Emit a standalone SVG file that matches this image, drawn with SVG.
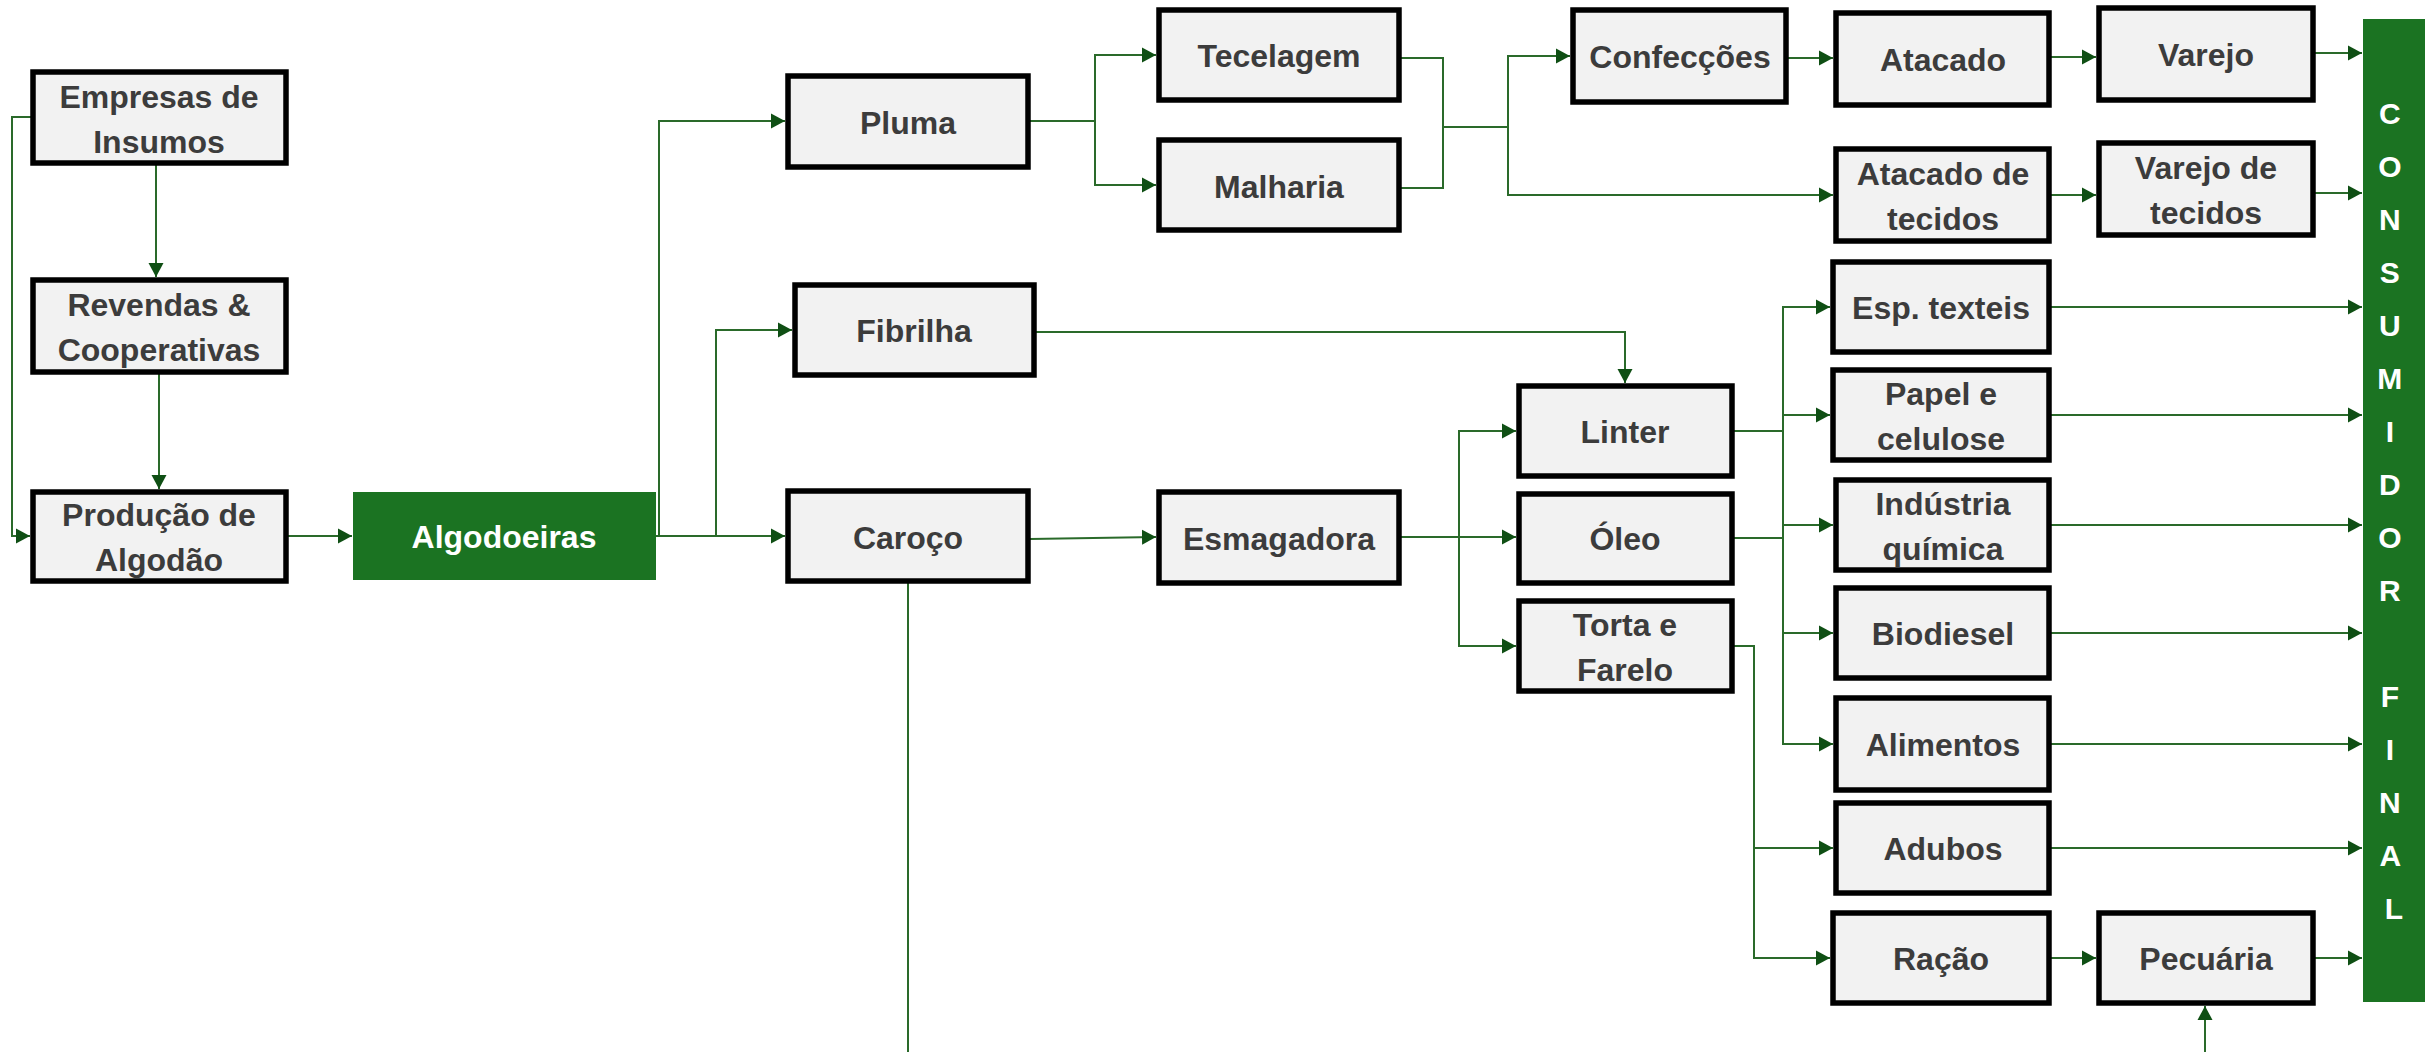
<svg xmlns="http://www.w3.org/2000/svg" width="2425" height="1052" viewBox="0 0 2425 1052">
  <style>
    .box { fill: #f2f2f2; stroke: #000; stroke-width: 5.5; }
    .green { fill: #1b7322; }
    .lbl { font-family: "Liberation Sans", Arial, sans-serif; font-weight: bold; font-size: 32px; fill: #3c3c3c; text-anchor: middle; }
    .wlbl { font-family: "Liberation Sans", Arial, sans-serif; font-weight: bold; font-size: 32px; fill: #ffffff; text-anchor: middle; }
    .vlbl { font-family: "Liberation Sans", Arial, sans-serif; font-weight: bold; font-size: 30px; fill: #ffffff; text-anchor: middle; }
    .conn { fill: none; stroke: #2a6a2a; stroke-width: 2; }
    .arr { marker-end: url(#head); }
  </style>
  <defs>
    <marker id="head" markerUnits="userSpaceOnUse" markerWidth="16" markerHeight="18" refX="14" refY="8.5" orient="auto">
      <path d="M0,1 L14,8.5 L0,16 Z" fill="#0f4f14"/>
    </marker>
  </defs>

  <rect width="2425" height="1052" fill="#ffffff"/>

  <!-- connectors -->
  <g id="connectors">
    <path class="conn arr" d="M156,165 V277"/>
    <path class="conn arr" d="M159,374 V489"/>
    <path class="conn arr" d="M31,117 H12 V536 H30"/>
    <path class="conn arr" d="M288,536 H352"/>
    <path class="conn arr" d="M656,536 H785"/>
    <path class="conn arr" d="M659,536 V121 H785"/>
    <path class="conn arr" d="M716,536 V330 H792"/>
    <path class="conn arr" d="M1030,121 H1095 V55 H1156"/>
    <path class="conn arr" d="M1095,121 V185 H1156"/>
    <path class="conn" d="M1401,58 H1443 V188 H1401"/>
    <path class="conn arr" d="M1443,127 H1508 V56 H1570"/>
    <path class="conn arr" d="M1508,127 V195 H1833"/>
    <path class="conn arr" d="M1788,58 H1833"/>
    <path class="conn arr" d="M2051,57 H2096"/>
    <path class="conn arr" d="M2315,53 H2362"/>
    <path class="conn arr" d="M2051,195 H2096"/>
    <path class="conn arr" d="M2315,193 H2362"/>
    <path class="conn arr" d="M1036,332 H1625 V383"/>
    <path class="conn arr" d="M1030,539 L1156,537"/>
    <path class="conn arr" d="M908,583 V1090 H2205 V1006"/>
    <path class="conn arr" d="M1401,537 H1516"/>
    <path class="conn arr" d="M1459,537 V431 H1516"/>
    <path class="conn arr" d="M1459,537 V646 H1516"/>
    <path class="conn arr" d="M1734,431 H1783 V307 H1830"/>
    <path class="conn arr" d="M1783,431 V415 H1830"/>
    <path class="conn" d="M1734,538 H1783"/>
    <path class="conn arr" d="M1783,431 V525 H1833"/>
    <path class="conn arr" d="M1783,525 V633 H1833"/>
    <path class="conn arr" d="M1783,633 V744 H1833"/>
    <path class="conn arr" d="M1734,646 H1754 V848 H1833"/>
    <path class="conn arr" d="M1754,848 V958 H1830"/>
    <path class="conn arr" d="M2051,307 H2362"/>
    <path class="conn arr" d="M2051,415 H2362"/>
    <path class="conn arr" d="M2051,525 H2362"/>
    <path class="conn arr" d="M2051,633 H2362"/>
    <path class="conn arr" d="M2051,744 H2362"/>
    <path class="conn arr" d="M2051,848 H2362"/>
    <path class="conn arr" d="M2051,958 H2096"/>
    <path class="conn arr" d="M2315,958 H2362"/>
  </g>

  <!-- supply side -->
  <g id="empresas">
    <rect class="box" x="33" y="72" width="253" height="91"/>
    <text class="lbl" x="159" y="108">Empresas de</text>
    <text class="lbl" x="159" y="153">Insumos</text>
  </g>
  <g id="revendas">
    <rect class="box" x="33" y="280" width="253" height="92"/>
    <text class="lbl" x="159" y="316">Revendas &amp;</text>
    <text class="lbl" x="159" y="361">Cooperativas</text>
  </g>
  <g id="producao">
    <rect class="box" x="33" y="492" width="253" height="89"/>
    <text class="lbl" x="159" y="526">Produção de</text>
    <text class="lbl" x="159" y="571">Algodão</text>
  </g>
  <g id="algodoeiras">
    <rect class="green" x="353" y="492" width="303" height="88"/>
    <text class="wlbl" x="504" y="548">Algodoeiras</text>
  </g>

  <!-- fibre chain -->
  <g id="pluma">
    <rect class="box" x="788" y="76" width="240" height="91"/>
    <text class="lbl" x="908" y="134">Pluma</text>
  </g>
  <g id="tecelagem">
    <rect class="box" x="1159" y="10" width="240" height="90"/>
    <text class="lbl" x="1279" y="67">Tecelagem</text>
  </g>
  <g id="malharia">
    <rect class="box" x="1159" y="140" width="240" height="90"/>
    <text class="lbl" x="1279" y="198">Malharia</text>
  </g>
  <g id="confeccoes">
    <rect class="box" x="1573" y="10" width="213" height="92"/>
    <text class="lbl" x="1680" y="68">Confecções</text>
  </g>
  <g id="atacado">
    <rect class="box" x="1836" y="13" width="213" height="92"/>
    <text class="lbl" x="1943" y="71">Atacado</text>
  </g>
  <g id="varejo">
    <rect class="box" x="2099" y="8" width="214" height="92"/>
    <text class="lbl" x="2206" y="66">Varejo</text>
  </g>
  <g id="atacado-tecidos">
    <rect class="box" x="1836" y="149" width="213" height="92"/>
    <text class="lbl" x="1943" y="185">Atacado de</text>
    <text class="lbl" x="1943" y="230">tecidos</text>
  </g>
  <g id="varejo-tecidos">
    <rect class="box" x="2099" y="143" width="214" height="92"/>
    <text class="lbl" x="2206" y="179">Varejo de</text>
    <text class="lbl" x="2206" y="224">tecidos</text>
  </g>

  <!-- seed chain -->
  <g id="fibrilha">
    <rect class="box" x="795" y="285" width="239" height="90"/>
    <text class="lbl" x="914" y="342">Fibrilha</text>
  </g>
  <g id="caroco">
    <rect class="box" x="788" y="491" width="240" height="90"/>
    <text class="lbl" x="908" y="549">Caroço</text>
  </g>
  <g id="esmagadora">
    <rect class="box" x="1159" y="492" width="240" height="91"/>
    <text class="lbl" x="1279" y="550">Esmagadora</text>
  </g>
  <g id="linter">
    <rect class="box" x="1519" y="386" width="213" height="90"/>
    <text class="lbl" x="1625" y="443">Linter</text>
  </g>
  <g id="oleo">
    <rect class="box" x="1519" y="494" width="213" height="89"/>
    <text class="lbl" x="1625" y="550">Óleo</text>
  </g>
  <g id="torta">
    <rect class="box" x="1519" y="601" width="213" height="90"/>
    <text class="lbl" x="1625" y="636">Torta e</text>
    <text class="lbl" x="1625" y="681">Farelo</text>
  </g>
  <g id="esp-texteis">
    <rect class="box" x="1833" y="262" width="216" height="90"/>
    <text class="lbl" x="1941" y="319">Esp. texteis</text>
  </g>
  <g id="papel">
    <rect class="box" x="1833" y="370" width="216" height="90"/>
    <text class="lbl" x="1941" y="405">Papel e</text>
    <text class="lbl" x="1941" y="450">celulose</text>
  </g>
  <g id="industria">
    <rect class="box" x="1836" y="480" width="213" height="90"/>
    <text class="lbl" x="1943" y="515">Indústria</text>
    <text class="lbl" x="1943" y="560">química</text>
  </g>
  <g id="biodiesel">
    <rect class="box" x="1836" y="588" width="213" height="90"/>
    <text class="lbl" x="1943" y="645">Biodiesel</text>
  </g>
  <g id="alimentos">
    <rect class="box" x="1836" y="698" width="213" height="92"/>
    <text class="lbl" x="1943" y="756">Alimentos</text>
  </g>
  <g id="adubos">
    <rect class="box" x="1836" y="803" width="213" height="90"/>
    <text class="lbl" x="1943" y="860">Adubos</text>
  </g>
  <g id="racao">
    <rect class="box" x="1833" y="913" width="216" height="90"/>
    <text class="lbl" x="1941" y="970">Ração</text>
  </g>
  <g id="pecuaria">
    <rect class="box" x="2099" y="913" width="214" height="90"/>
    <text class="lbl" x="2206" y="970">Pecuária</text>
  </g>

  <!-- final consumer bar -->
  <g id="consumidor-final">
    <rect class="green" x="2363" y="19" width="62" height="983"/>
    <text class="vlbl">
      <tspan x="2394" y="124">C</tspan>
      <tspan x="2394" y="177">O</tspan>
      <tspan x="2394" y="230">N</tspan>
      <tspan x="2394" y="283">S</tspan>
      <tspan x="2394" y="336">U</tspan>
      <tspan x="2394" y="389">M</tspan>
      <tspan x="2394" y="442">I</tspan>
      <tspan x="2394" y="495">D</tspan>
      <tspan x="2394" y="548">O</tspan>
      <tspan x="2394" y="601">R</tspan>
      <tspan x="2394" y="707">F</tspan>
      <tspan x="2394" y="760">I</tspan>
      <tspan x="2394" y="813">N</tspan>
      <tspan x="2394" y="866">A</tspan>
      <tspan x="2394" y="919">L</tspan>
    </text>
  </g>
</svg>
